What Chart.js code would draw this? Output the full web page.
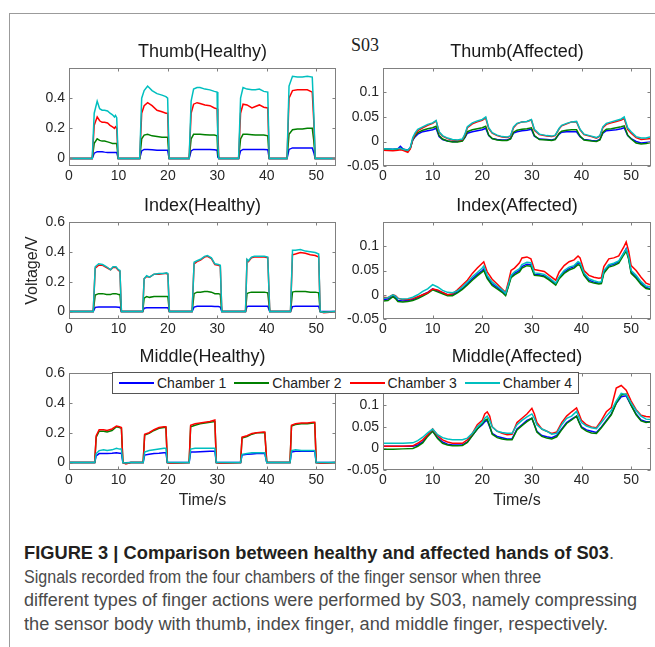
<!DOCTYPE html>
<html>
<head>
<meta charset="utf-8">
<script src="https://cdn.jsdelivr.net/npm/chart.js@4.4.1/dist/chart.umd.min.js"></script>
<style>
  body { margin: 0; width: 655px; height: 647px; position: relative; overflow: hidden; background: #fff; font-family: "Liberation Sans", Arial, sans-serif; }
  #frame { position: absolute; left: 9px; top: 13px; width: 700px; height: 700px; border-left: 1px solid #9b9b9b; border-top: 1px solid #9b9b9b; }
  canvas { position: absolute; }
  #s03 { position: absolute; left: 351px; top: 36px; font: 18px/18px "Liberation Serif", serif; color: #222; }
  #legend { position: absolute; left: 112px; top: 372px; width: 465px; height: 20px; border: 1px solid #555; background: #fff; display: flex; align-items: center; font-size: 14px; color: #222; z-index: 5; }
  .it { display: flex; align-items: center; margin-left: 8px; white-space: nowrap; }
  .it:first-child { margin-left: 6px; }
  .it i { display: inline-block; width: 35px; height: 2px; margin-right: 3px; }
  #caption { position: absolute; left: 24px; top: 542px; font-family: "Liberation Sans", Arial, sans-serif; font-size: 17.5px; line-height: 23.6px; color: #4a4a4a; }
  #caption div { white-space: nowrap; width: max-content; transform-origin: 0 0; }
  #caption b { color: #231f20; }
</style>
</head>
<body>
<div id="frame"></div>
<div id="s03">S03</div>
<div id="legend"></div>
<div id="caption">
  <div><b>FIGURE 3 | Comparison between healthy and affected hands of S03</b>.</div>
  <div>Signals recorded from the four chambers of the finger sensor when three</div>
  <div>different types of finger actions were performed by S03, namely compressing</div>
  <div>the sensor body with thumb, index finger, and middle finger, respectively.</div>
</div>
<script>
const chamberLabels = ['Chamber 1', 'Chamber 2', 'Chamber 3', 'Chamber 4'];
const chamberColors = ['#0000ff', '#008000', '#ff0000', '#00bfbf'];
const xTicks = [0, 10, 20, 30, 40, 50];
const thumbHealthyYTicks = [0, 0.2, 0.4];
const healthyYTicks = [0, 0.2, 0.4, 0.6];
const affectedYTicks = [-0.05, 0, 0.05, 0.1];

// Thumb (healthy)
const thT = [0, 4.7, 5.1, 5.7, 6.2, 6.7, 7.2, 7.8, 8.3, 8.8, 9.2, 9.4, 9.65, 9.95,
  14.3, 14.7, 15.2, 15.9, 16.8, 17.8, 18.8, 19.6, 19.95, 20.25,
  24.3, 24.7, 25.2, 25.9, 26.5, 27.5, 28.5, 29.4, 29.95, 30.1, 30.3,
  34.3, 34.7, 35.2, 36.0, 37.0, 37.7, 38.5, 39.4, 40.2, 40.5,
  44.1, 44.5, 45.2, 46.2, 47.2, 48.2, 49.2, 49.5, 49.8, 54];
const thC1 = [0, 0, 0.035, 0.045, 0.045, 0.045, 0.042, 0.04, 0.04, 0.04, 0.04, 0.04, 0.04, 0,
  0, 0.05, 0.06, 0.06, 0.058, 0.055, 0.055, 0.055, 0.055, 0,
  0, 0.05, 0.06, 0.06, 0.06, 0.06, 0.06, 0.058, 0.055, 0.01, 0,
  0, 0.05, 0.06, 0.06, 0.06, 0.06, 0.06, 0.06, 0.058, 0,
  0, 0.06, 0.07, 0.07, 0.07, 0.07, 0.07, 0.04, 0, 0];
const thC2 = [0, 0, 0.10, 0.13, 0.12, 0.115, 0.115, 0.11, 0.105, 0.10, 0.10, 0.10, 0.10, 0,
  0, 0.13, 0.155, 0.16, 0.15, 0.145, 0.14, 0.14, 0.14, 0,
  0, 0.13, 0.16, 0.16, 0.16, 0.158, 0.155, 0.155, 0.15, 0.03, 0,
  0, 0.13, 0.16, 0.16, 0.158, 0.155, 0.155, 0.155, 0.15, 0,
  0, 0.16, 0.19, 0.195, 0.195, 0.2, 0.2, 0.12, 0, 0];
const thC3 = [0, 0, 0.22, 0.275, 0.25, 0.24, 0.24, 0.235, 0.22, 0.21, 0.20, 0.21, 0.20, 0,
  0, 0.30, 0.35, 0.37, 0.35, 0.32, 0.31, 0.30, 0.30, 0,
  0, 0.30, 0.36, 0.37, 0.365, 0.355, 0.35, 0.335, 0.33, 0.18, 0,
  0, 0.30, 0.36, 0.355, 0.335, 0.345, 0.355, 0.34, 0.335, 0,
  0, 0.40, 0.45, 0.455, 0.455, 0.455, 0.44, 0.25, 0, 0];
const thC4 = [0, 0, 0.30, 0.38, 0.33, 0.32, 0.32, 0.315, 0.30, 0.29, 0.275, 0.285, 0.27, 0,
  0, 0.40, 0.45, 0.48, 0.45, 0.43, 0.42, 0.41, 0.40, 0,
  0, 0.38, 0.46, 0.47, 0.47, 0.46, 0.455, 0.445, 0.44, 0.10, 0,
  0, 0.40, 0.47, 0.46, 0.455, 0.455, 0.46, 0.445, 0.44, 0,
  0, 0.48, 0.545, 0.54, 0.54, 0.545, 0.54, 0.30, 0, 0];

// Index (healthy)
const ihT = [0, 4.9, 5.3, 6.0, 6.8, 7.6, 8.4, 8.9, 9.5, 10.0, 10.3, 10.6,
  14.9, 15.2, 15.7, 16.3, 17.2, 18.2, 19.2, 19.7, 20.0, 20.3,
  24.9, 25.3, 25.9, 26.6, 27.4, 28.0, 28.8, 29.5, 30.2, 30.6, 30.9,
  35.7, 36.0, 36.3, 36.9, 37.5, 38.5, 39.5, 40.2, 40.6,
  44.8, 45.2, 45.8, 46.8, 47.8, 48.8, 49.8, 50.5, 50.8, 51.5, 54];
const ihC1 = [0, 0, 0.028, 0.03, 0.03, 0.03, 0.03, 0.03, 0.03, 0.028, 0.028, 0,
  0, 0.022, 0.025, 0.025, 0.025, 0.025, 0.025, 0.025, 0.025, 0,
  0, 0.03, 0.035, 0.035, 0.035, 0.035, 0.035, 0.033, 0.033, 0.03, 0,
  0, 0.033, 0.035, 0.035, 0.035, 0.035, 0.035, 0.035, 0,
  0, 0.033, 0.035, 0.035, 0.035, 0.035, 0.035, 0.035, 0, 0, 0];
const ihC2 = [0, 0, 0.11, 0.12, 0.12, 0.115, 0.115, 0.12, 0.12, 0.115, 0.115, 0,
  0, 0.09, 0.10, 0.095, 0.10, 0.10, 0.10, 0.10, 0.10, 0,
  0, 0.12, 0.13, 0.13, 0.135, 0.135, 0.13, 0.12, 0.12, 0.115, 0,
  0, 0.12, 0.125, 0.13, 0.13, 0.13, 0.13, 0.125, 0,
  0, 0.13, 0.135, 0.135, 0.135, 0.13, 0.13, 0.125, 0, -0.003, 0];
const ihC3 = [0, 0, 0.29, 0.31, 0.31, 0.295, 0.28, 0.295, 0.295, 0.275, 0.27, 0,
  0, 0.22, 0.235, 0.23, 0.25, 0.25, 0.255, 0.255, 0.25, 0,
  0, 0.32, 0.335, 0.345, 0.365, 0.37, 0.355, 0.315, 0.31, 0.305, 0,
  0, 0.345, 0.335, 0.36, 0.365, 0.365, 0.365, 0.36, 0,
  0, 0.38, 0.385, 0.395, 0.39, 0.38, 0.375, 0.365, 0, -0.008, -0.002];
const ihC4 = [0, 0, 0.30, 0.32, 0.315, 0.30, 0.28, 0.30, 0.30, 0.28, 0.275, 0,
  0, 0.22, 0.24, 0.23, 0.25, 0.255, 0.255, 0.26, 0.255, 0,
  0, 0.33, 0.34, 0.35, 0.37, 0.375, 0.36, 0.32, 0.315, 0.31, 0,
  0, 0.35, 0.34, 0.365, 0.37, 0.37, 0.37, 0.365, 0,
  0, 0.41, 0.41, 0.415, 0.405, 0.40, 0.395, 0.385, 0, -0.005, 0];

// Middle (healthy)
const mhT = [0, 5.2, 5.5, 6.1, 7.0, 7.7, 8.7, 9.6, 10.2, 10.6, 10.9, 11.5, 12.5,
  15.0, 15.3, 16.2, 17.2, 18.2, 19.2, 19.6, 19.9, 20.5,
  24.3, 24.6, 25.5, 26.5, 27.5, 28.5, 29.5, 29.8, 30.5,
  34.7, 35.0, 36.0, 37.0, 38.0, 39.3, 39.6, 40.0,
  44.7, 45.0, 45.8, 47.0, 48.2, 49.4, 49.7, 50.0, 51.0, 54];
const mhC1 = [0, 0, 0.045, 0.06, 0.06, 0.06, 0.062, 0.065, 0.063, 0.063, 0, -0.002, 0,
  0, 0.05, 0.055, 0.06, 0.062, 0.065, 0.065, 0, 0,
  0, 0.07, 0.07, 0.072, 0.074, 0.075, 0.075, 0, 0,
  0, 0.05, 0.055, 0.058, 0.06, 0.06, 0.06, 0,
  0, 0.07, 0.075, 0.075, 0.075, 0.075, 0.075, 0, 0, 0];
const mhC2 = [0, 0, 0.17, 0.21, 0.21, 0.205, 0.215, 0.24, 0.235, 0.23, 0, -0.005, 0,
  0, 0.185, 0.195, 0.215, 0.23, 0.235, 0.235, 0, -0.003,
  0, 0.24, 0.25, 0.26, 0.265, 0.27, 0.275, 0, -0.003,
  0, 0.165, 0.175, 0.19, 0.20, 0.2, 0.2, 0,
  0, 0.245, 0.255, 0.26, 0.26, 0.265, 0.265, 0, -0.003, 0];
const mhC3 = [0, 0, 0.18, 0.22, 0.22, 0.215, 0.225, 0.245, 0.24, 0.235, 0, -0.01, 0,
  0, 0.19, 0.20, 0.22, 0.235, 0.24, 0.24, 0, -0.005,
  0, 0.25, 0.26, 0.265, 0.27, 0.275, 0.285, 0, -0.005,
  0, 0.17, 0.18, 0.195, 0.20, 0.205, 0.205, 0,
  0, 0.25, 0.26, 0.265, 0.265, 0.27, 0.27, 0, -0.005, 0];
const mhC4 = [0, 0, 0.06, 0.08, 0.085, 0.08, 0.085, 0.095, 0.09, 0.09, 0, -0.003, 0,
  0, 0.07, 0.08, 0.085, 0.09, 0.095, 0.095, 0, 0,
  0, 0.09, 0.095, 0.095, 0.095, 0.095, 0.095, 0, 0,
  0, 0.055, 0.06, 0.065, 0.065, 0.065, 0.065, 0,
  0, 0.08, 0.085, 0.08, 0.08, 0.08, 0.08, 0, 0, 0];

// Thumb (affected)
const taT = [0, 2, 3, 3.5, 4, 5, 5.5, 6, 6.5, 7,
  8, 9, 10, 10.7, 11.3, 12, 13, 14, 15, 16,
  16.5, 17, 18, 19, 20, 20.7, 21.3, 22, 23, 24,
  25, 25.7, 26.3, 27, 28, 29, 29.9, 30.5, 31.5, 33,
  34, 34.7, 35.5, 36, 37, 38, 39, 39.7, 40.5, 42,
  43, 43.7, 44.3, 45, 46, 47, 48, 48.6, 49.3, 50,
  51, 52, 53, 54];
const taC1 = [-0.015, -0.016, -0.015, -0.01, -0.015, -0.018, -0.013, 0.003, 0.01, 0.015,
  0.02, 0.022, 0.024, 0.027, 0.01, 0.004, 0.001, 0.0, 0.0, 0.002,
  0.008, 0.017, 0.02, 0.022, 0.024, 0.027, 0.012, 0.006, 0.004, 0.003,
  0.003, 0.006, 0.017, 0.02, 0.022, 0.023, 0.025, 0.011, 0.005, 0.004,
  0.003, 0.005, 0.015, 0.019, 0.02, 0.02, 0.02, 0.01, 0.004, 0.002,
  0.001, 0.004, 0.017, 0.022, 0.023, 0.024, 0.026, 0.028, 0.012, 0.006,
  0.0, -0.003, -0.002, -0.001];
const taC2 = [-0.016, -0.017, -0.016, -0.014, -0.016, -0.019, -0.014, 0.004, 0.012, 0.018,
  0.023, 0.026, 0.028, 0.031, 0.012, 0.005, 0.001, -0.001, -0.001, 0.001,
  0.009, 0.02, 0.024, 0.026, 0.028, 0.031, 0.013, 0.006, 0.003, 0.002,
  0.002, 0.005, 0.019, 0.023, 0.025, 0.026, 0.028, 0.012, 0.004, 0.003,
  0.002, 0.004, 0.017, 0.021, 0.023, 0.024, 0.024, 0.011, 0.003, 0.001,
  0.0, 0.003, 0.019, 0.025, 0.026, 0.028, 0.03, 0.032, 0.013, 0.005,
  -0.003, -0.005, -0.004, -0.002];
const taC3 = [-0.018, -0.019, -0.018, -0.017, -0.018, -0.022, -0.015, 0.005, 0.015, 0.022,
  0.028, 0.033, 0.037, 0.042, 0.019, 0.011, 0.006, 0.003, 0.002, 0.004,
  0.013, 0.028, 0.036, 0.04, 0.043, 0.048, 0.026, 0.017, 0.012, 0.009,
  0.008, 0.011, 0.028, 0.036, 0.04, 0.041, 0.044, 0.023, 0.014, 0.011,
  0.01, 0.012, 0.026, 0.032, 0.036, 0.04, 0.04, 0.024, 0.014, 0.01,
  0.007, 0.011, 0.028, 0.035, 0.038, 0.041, 0.044, 0.047, 0.025, 0.017,
  0.008, 0.004, 0.005, 0.006];
const taC4 = [-0.015, -0.016, -0.015, -0.014, -0.016, -0.018, -0.012, 0.008, 0.018, 0.025,
  0.03, 0.035, 0.038, 0.043, 0.02, 0.012, 0.007, 0.004, 0.003, 0.005,
  0.015, 0.03, 0.038, 0.042, 0.045, 0.05, 0.028, 0.018, 0.013, 0.01,
  0.009, 0.012, 0.03, 0.037, 0.04, 0.041, 0.045, 0.025, 0.015, 0.012,
  0.011, 0.013, 0.027, 0.033, 0.037, 0.04, 0.041, 0.025, 0.015, 0.011,
  0.008, 0.012, 0.03, 0.037, 0.04, 0.043, 0.046, 0.05, 0.028, 0.02,
  0.01, 0.007, 0.007, 0.01];

// Index (affected)
const iaT = [0, 1, 2, 2.5, 3, 4, 5, 6, 7, 8,
  9, 10, 11, 12, 13, 14, 15, 16, 17, 18,
  19, 20, 20.3, 21, 22, 23, 24, 24.7, 25.3, 25.8,
  26.5, 27.5, 28, 29, 29.8, 30.5, 31.5, 32.5, 33.5, 34.8,
  35.5, 36.5, 37.5, 38.5, 39.3, 39.7, 40.5, 41.5, 42.5, 43.5,
  44, 44.5, 45.5, 46.5, 47.5, 48.5, 49, 49.5, 50, 51,
  52, 53, 54];
const iaC1 = [-0.01, -0.009, -0.002, -0.005, -0.012, -0.013, -0.012, -0.01, -0.006, 0.0,
  0.005, 0.012, 0.008, 0.004, 0.0, 0.0, 0.006, 0.013, 0.022, 0.033,
  0.042, 0.05, 0.053, 0.036, 0.022, 0.015, 0.007, 0.0, 0.02, 0.038,
  0.044, 0.05, 0.058, 0.063, 0.062, 0.042, 0.041, 0.039, 0.032, 0.022,
  0.035, 0.047, 0.054, 0.058, 0.066, 0.064, 0.043, 0.03, 0.026, 0.024,
  0.025, 0.047, 0.06, 0.063, 0.068, 0.086, 0.095, 0.076, 0.047, 0.037,
  0.024, 0.015, 0.012];
const iaC2 = [-0.013, -0.012, -0.004, -0.008, -0.014, -0.015, -0.014, -0.012, -0.008, -0.003,
  0.003, 0.01, 0.006, 0.002, -0.002, -0.002, 0.004, 0.011, 0.02, 0.03,
  0.039, 0.047, 0.05, 0.033, 0.019, 0.012, 0.005, -0.002, 0.018, 0.035,
  0.041, 0.047, 0.055, 0.06, 0.059, 0.04, 0.039, 0.037, 0.03, 0.02,
  0.033, 0.044, 0.051, 0.055, 0.062, 0.06, 0.04, 0.027, 0.024, 0.022,
  0.023, 0.044, 0.057, 0.06, 0.065, 0.082, 0.09, 0.073, 0.044, 0.034,
  0.021, 0.013, 0.011];
const iaC3 = [-0.005, -0.006, 0.0, -0.002, -0.007, -0.01, -0.01, -0.008, -0.004, 0.0,
  0.004, 0.012, 0.01, 0.005, 0.0, 0.002, 0.01, 0.02, 0.03, 0.044,
  0.055, 0.065, 0.068, 0.047, 0.032, 0.022, 0.012, 0.005, 0.028, 0.05,
  0.055, 0.066, 0.076, 0.078, 0.074, 0.052, 0.05, 0.048, 0.04, 0.03,
  0.047, 0.06, 0.068, 0.072, 0.08, 0.076, 0.05, 0.04, 0.036, 0.034,
  0.035, 0.058, 0.074, 0.076, 0.08, 0.098, 0.109, 0.09, 0.06, 0.05,
  0.036, 0.024, 0.02];
const iaC4 = [-0.008, -0.006, 0.0, -0.003, -0.008, -0.009, -0.008, -0.005, 0.0, 0.007,
  0.012, 0.021, 0.016, 0.009, 0.005, 0.004, 0.008, 0.016, 0.026, 0.037,
  0.046, 0.055, 0.059, 0.04, 0.026, 0.018, 0.01, 0.003, 0.022, 0.04,
  0.047, 0.054, 0.062, 0.067, 0.066, 0.045, 0.044, 0.042, 0.035, 0.024,
  0.037, 0.05, 0.057, 0.06, 0.068, 0.066, 0.045, 0.033, 0.029, 0.026,
  0.027, 0.05, 0.062, 0.065, 0.07, 0.086, 0.094, 0.078, 0.05, 0.04,
  0.027, 0.018, 0.016];

// Middle (affected)
const maT = [0, 2, 4, 6, 7, 8, 9, 10, 11, 12,
  13, 14, 15, 16, 17, 18, 19, 20, 20.5, 21,
  21.5, 22, 23, 24, 25, 26, 27, 28, 29, 30,
  30.5, 31, 32, 33, 34, 35, 36, 37, 38, 39,
  39.5, 40, 41, 42, 43, 44, 45, 46, 47, 48,
  49, 50, 51, 52, 53, 54];
const maC1 = [0.005, 0.005, 0.005, 0.005, 0.008, 0.015, 0.03, 0.04, 0.025, 0.015,
  0.01, 0.008, 0.008, 0.008, 0.015, 0.03, 0.045, 0.055, 0.062, 0.065,
  0.05, 0.035, 0.028, 0.025, 0.022, 0.022, 0.045, 0.055, 0.065, 0.07,
  0.055, 0.04, 0.03, 0.027, 0.025, 0.03, 0.045, 0.06, 0.068, 0.075,
  0.062, 0.05, 0.043, 0.04, 0.037, 0.05, 0.065, 0.08, 0.105, 0.12,
  0.122, 0.1, 0.08, 0.066, 0.062, 0.062];
const maC2 = [-0.002, -0.002, -0.001, 0.0, 0.005, 0.013, 0.028, 0.04, 0.023, 0.012,
  0.008, 0.006, 0.006, 0.007, 0.014, 0.03, 0.045, 0.058, 0.065, 0.068,
  0.052, 0.033, 0.025, 0.022, 0.02, 0.02, 0.043, 0.053, 0.062, 0.07,
  0.055, 0.038, 0.028, 0.024, 0.022, 0.027, 0.043, 0.058, 0.066, 0.075,
  0.06, 0.048, 0.04, 0.036, 0.035, 0.048, 0.063, 0.078, 0.105, 0.124,
  0.126, 0.1, 0.078, 0.064, 0.06, 0.062];
const maC3 = [0.005, 0.005, 0.005, 0.006, 0.012, 0.02, 0.032, 0.045, 0.03, 0.02,
  0.015, 0.012, 0.012, 0.012, 0.02, 0.035, 0.055, 0.065, 0.08, 0.085,
  0.075, 0.05, 0.04, 0.035, 0.032, 0.033, 0.06, 0.07, 0.08, 0.093,
  0.08, 0.06, 0.045, 0.04, 0.035, 0.038, 0.06, 0.075, 0.085, 0.094,
  0.08, 0.065, 0.055, 0.05, 0.048, 0.065, 0.085, 0.095, 0.14, 0.146,
  0.135, 0.11, 0.09, 0.077, 0.074, 0.073];
const maC4 = [0.012, 0.012, 0.012, 0.013, 0.018, 0.026, 0.036, 0.045, 0.032, 0.025,
  0.022, 0.02, 0.02, 0.02, 0.024, 0.035, 0.05, 0.06, 0.07, 0.075,
  0.065, 0.05, 0.04, 0.037, 0.035, 0.035, 0.055, 0.065, 0.073, 0.08,
  0.07, 0.055, 0.045, 0.04, 0.033, 0.035, 0.055, 0.07, 0.075, 0.086,
  0.072, 0.06, 0.052, 0.048, 0.046, 0.06, 0.075, 0.088, 0.11, 0.128,
  0.125, 0.105, 0.088, 0.075, 0.068, 0.067];

const FONT = '"Liberation Sans", Arial, sans-serif';
Chart.defaults.font.family = FONT;

const panels = [
  { title: 'Thumb(Healthy)', L: 69, R: 336, T: 68, B: 166, t: thT, s: [thC1, thC2, thC3, thC4], ymin: -0.05, ymax: 0.6, yt: thumbHealthyYTicks },
  { title: 'Thumb(Affected)', L: 383, R: 651, T: 68, B: 166, t: taT, s: [taC1, taC2, taC3, taC4], ymin: -0.05, ymax: 0.15, yt: affectedYTicks },
  { title: 'Index(Healthy)', L: 69, R: 336, T: 222, B: 319, t: ihT, s: [ihC1, ihC2, ihC3, ihC4], ymin: -0.05, ymax: 0.6, yt: healthyYTicks, ylabel: 'Voltage/V' },
  { title: 'Index(Affected)', L: 383, R: 651, T: 222, B: 319, t: iaT, s: [iaC1, iaC2, iaC3, iaC4], ymin: -0.05, ymax: 0.15, yt: affectedYTicks },
  { title: 'Middle(Healthy)', L: 69, R: 336, T: 373, B: 470, t: mhT, s: [mhC1, mhC2, mhC3, mhC4], ymin: -0.05, ymax: 0.6, yt: healthyYTicks, xlabel: 'Time/s' },
  { title: 'Middle(Affected)', L: 383, R: 651, T: 373, B: 470, t: maT, s: [maC1, maC2, maC3, maC4], ymin: -0.05, ymax: 0.175, yt: affectedYTicks, xlabel: 'Time/s' }
];

// box round the axes with inward ticks, like the original plots
const boxPlugin = {
  id: 'box',
  afterDatasetsDraw(chart) {
    const { ctx, chartArea: a, scales: { x, y } } = chart;
    const l = Math.round(a.left) + 0.5, r = Math.round(a.right) - 0.5;
    const t = Math.round(a.top) + 0.5, b = Math.round(a.bottom) - 0.5;
    ctx.save();
    ctx.strokeStyle = '#808080';
    ctx.lineWidth = 1;
    ctx.strokeRect(l, t, r - l, b - t);
    ctx.beginPath();
    x.ticks.forEach(tk => {
      const px = Math.round(x.getPixelForValue(tk.value)) + 0.5;
      ctx.moveTo(px, b); ctx.lineTo(px, b - 3);
      ctx.moveTo(px, t); ctx.lineTo(px, t + 3);
    });
    y.ticks.forEach(tk => {
      const py = Math.round(y.getPixelForValue(tk.value)) + 0.5;
      ctx.moveTo(l, py); ctx.lineTo(l + 3, py);
      ctx.moveTo(r, py); ctx.lineTo(r - 3, py);
    });
    ctx.stroke();
    ctx.restore();
  }
};

panels.forEach(p => {
  const xh = p.xlabel ? 40 : 25;
  const w = p.R - p.L + 60, h = p.B - p.T + 40 + xh;
  const cv = document.createElement('canvas');
  cv.width = w; cv.height = h;
  cv.style.left = (p.L - 50) + 'px';
  cv.style.top = (p.T - 40) + 'px';
  cv.style.width = w + 'px';
  cv.style.height = h + 'px';
  document.body.appendChild(cv);

  new Chart(cv, {
    type: 'line',
    data: {
      datasets: p.s.map((v, i) => ({
        label: chamberLabels[i],
        data: p.t.map((tx, j) => ({ x: tx, y: v[j] })),
        borderColor: chamberColors[i],
        borderWidth: 1.5,
        pointRadius: 0,
        tension: 0,
        order: 4 - i
      }))
    },
    options: {
      responsive: false,
      animation: false,
      layout: { padding: { right: 10 } },
      plugins: {
        legend: { display: false },
        tooltip: { enabled: false },
        title: {
          display: true, text: p.title, fullSize: false,
          font: { size: 18, weight: 'normal' }, color: '#1a1a1a',
          padding: { top: 13, bottom: 5.4 }
        }
      },
      scales: {
        x: {
          type: 'linear', min: 0, max: 54,
          grid: { display: false, drawTicks: false },
          border: { display: false },
          afterBuildTicks: s => { s.ticks = xTicks.map(v => ({ value: v })); },
          afterFit: s => { s.height = xh; },
          ticks: { font: { size: 14 }, color: '#262626', padding: 2, maxRotation: 0, autoSkip: false },
          title: { display: !!p.xlabel, text: p.xlabel || '', font: { size: 16 }, color: '#262626', padding: { top: 0, bottom: 0 } }
        },
        y: {
          min: p.ymin, max: p.ymax,
          grid: { display: false, drawTicks: false },
          border: { display: false },
          afterBuildTicks: s => { s.ticks = p.yt.map(v => ({ value: v })); },
          afterFit: s => { s.width = 50; },
          ticks: { font: { size: 14 }, color: '#262626', padding: 4, autoSkip: false,
            callback: v => String(Math.round(v * 1000) / 1000) },
          title: { display: !!p.ylabel, text: p.ylabel || '', font: { size: 16 }, color: '#262626', padding: { top: 4.4, bottom: 0 } }
        }
      }
    },
    plugins: [boxPlugin]
  });
});

// legend shared by the bottom pair
const legend = document.getElementById('legend');
chamberLabels.forEach((lab, i) => {
  const it = document.createElement('span');
  it.className = 'it';
  it.innerHTML = '<i style="background:' + chamberColors[i] + '"></i>' + lab;
  legend.appendChild(it);
});

// squeeze each caption line to the width it has in the figure
const captionWidths = [590, 517, 613, 584];
document.querySelectorAll('#caption div').forEach((d, i) => {
  const nat = d.offsetWidth;
  d.style.transform = 'scaleX(' + (captionWidths[i] / nat) + ')';
});
</script>
</body>
</html>
